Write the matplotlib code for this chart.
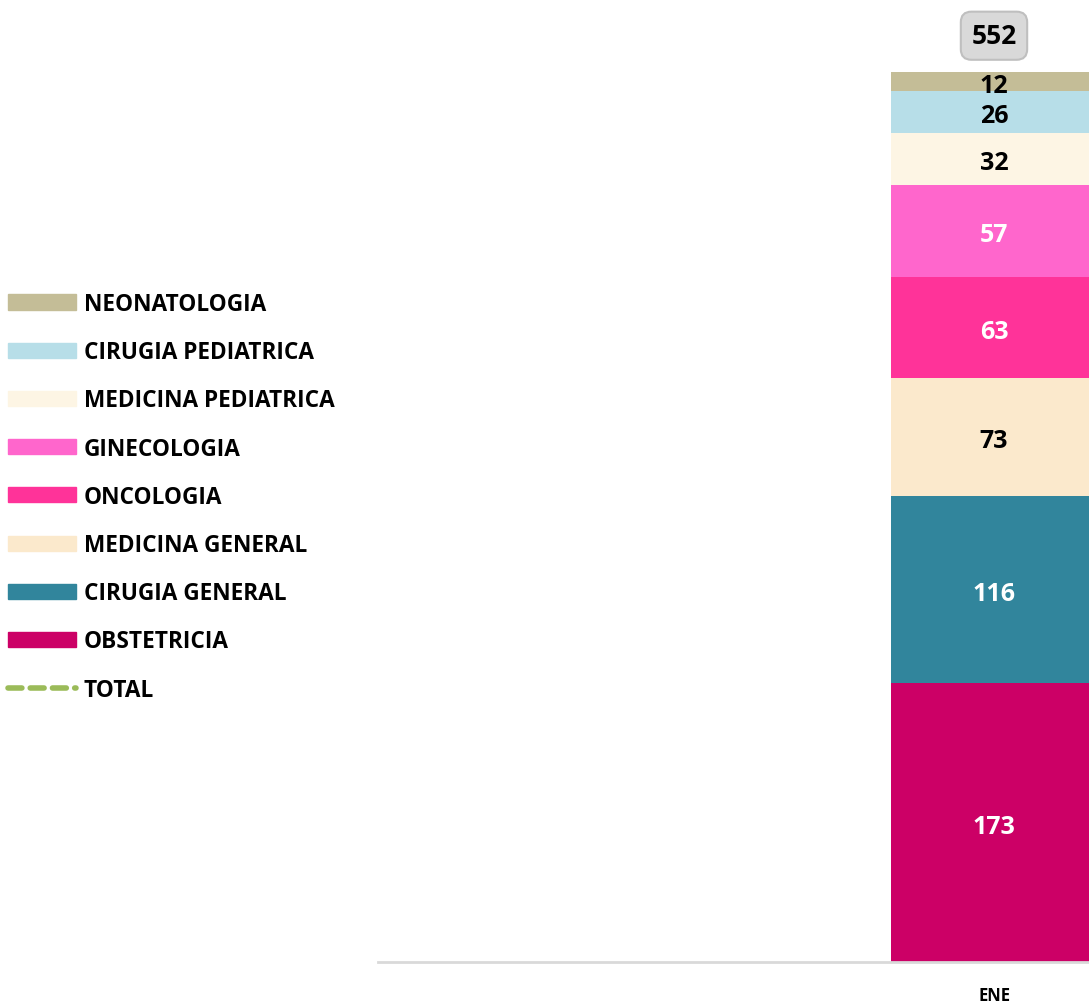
import matplotlib
matplotlib.use("Agg")
import matplotlib.pyplot as plt
from matplotlib.patches import Patch
from matplotlib.lines import Line2D

plt.rcParams['font.family'] = ['Open Sans', 'DejaVu Sans']
plt.rcParams['font.weight'] = 'bold'

months = ['ENE']
services = ['OBSTETRICIA', 'CIRUGIA GENERAL', 'MEDICINA GENERAL', 'ONCOLOGIA',
            'GINECOLOGIA', 'MEDICINA PEDIATRICA', 'CIRUGIA PEDIATRICA', 'NEONATOLOGIA']
values = [173, 116, 73, 63, 57, 32, 26, 12]
total = [552]

colors = ['#cc0066', '#31859c', '#fbe9cc', '#ff3399',
          '#ff66cc', '#fdf5e4', '#b7dee8', '#c4bd97']
label_colors = ['white', 'white', 'black', 'white',
                'white', 'black', 'black', 'black']

fig = plt.figure(figsize=(10.89, 10.04), dpi=100)
W, H = 1089.0, 1004.0
ax = fig.add_axes([378 / W, 41 / H, 1 - 378 / W, 1 - 41 / H])

x0 = 0
bw = 1.0
bottom = 0
for name, v, c, lc in zip(services, values, colors, label_colors):
    ax.bar(x0, v, bw, bottom=bottom, color=c, label=name, zorder=2)
    # labels sit a couple of pixels below centre, like the original
    ax.text(x0, bottom + v / 2 - 2.2, str(v), ha='center', va='center',
            color=lc, fontsize=18, fontweight='bold', zorder=3)
    bottom += v

ax.plot([x0], total, linestyle='--', color='#9bbb59', label='TOTAL')
ax.text(x0, total[0] + 22.5, str(total[0]), ha='center', va='center',
        fontsize=19, fontweight='bold', color='black',
        bbox=dict(boxstyle='round,pad=0.4,rounding_size=0.4',
                  fc='#d9d9d9', ec='#bfbfbf', lw=1.5))

# pixel geometry: bar centre at 994, width 206, axes 378..1089
px = 206.0
ax.set_xlim(x0 - (994 - 378) / px, x0 + (1089 - 994) / px)
ax.set_ylim(0, 963 / (890 / 552.0))

for s in ['top', 'right', 'left']:
    ax.spines[s].set_visible(False)
ax.spines['bottom'].set_color('#d9d9d9')
ax.spines['bottom'].set_linewidth(2)
ax.set_yticks([])
ax.set_xticks([x0])
ax.set_xticklabels(months, fontsize=12, fontweight='bold')
ax.tick_params(axis='x', length=0, pad=17)

handles = [Patch(color=c) for c in colors[::-1]]
handles.append(Line2D([0], [0], color='#9bbb59', lw=4, linestyle=(0, (2.5, 1.5)),
                      dash_capstyle='round'))
labels = services[::-1] + ['TOTAL']
fig.legend(handles, labels, loc='upper left', bbox_to_anchor=(0.0, 1 - 285 / H),
           frameon=False, handlelength=3.0, handleheight=0.65,
           handletextpad=0.35, labelspacing=1.07, borderaxespad=0, borderpad=0.35,
           prop={'weight': 'bold', 'size': 16.3})

fig.savefig('out.png', dpi=100)
